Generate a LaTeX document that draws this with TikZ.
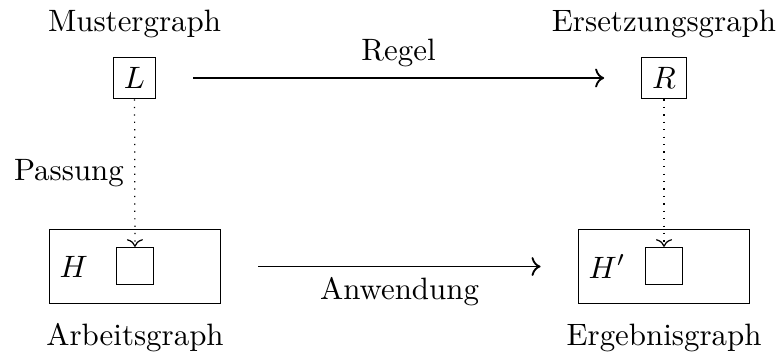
\documentclass[tikz,border=0pt]{standalone}
\usetikzlibrary{arrows.meta}
\begin{document}
\begin{tikzpicture}[x=0.3236pt,y=-0.3236pt,
  graphbox/.style={draw,inner sep=3.33pt},
  hostbox/.style={draw,minimum width=55.5pt,minimum height=24pt},
  slotbox/.style={draw,minimum size=12pt,inner sep=0pt},
  caption/.style={anchor=base},
  mainarrow/.style={->,semithick,shorten <=12pt,shorten >=12pt},
  matcharrow/.style={->,dotted}]
  \useasboundingbox (0,0) rectangle (778,352);

  % top row: rule
  \node[graphbox] (L) at (134.5,78) {$L$};
  \node[graphbox] (R) at (664,78) {$R$};
  \node[caption] (mcap) at (134.5,31) {Mustergraph};
  \node[caption] (ecap) at (664,31) {Ersetzungsgraph};

  % bottom row: host graphs
  \node[hostbox] (H) at (135,266.5) {};
  \node[slotbox] (Hs) at (135,266) {};
  \node[anchor=west] (Hl) at (H.west) {$H$};
  \node[hostbox] (Hp) at (664,266.5) {};
  \node[slotbox] (Hps) at (664,266) {};
  \node[anchor=west] (Hpl) at (Hp.west) {$H'$};
  \node[caption] (acap) at (135,345) {Arbeitsgraph};
  \node[caption] (gcap) at (664,345) {Ergebnisgraph};

  % connectors
  \draw[mainarrow] (L) -- node[above] (regel) {Regel} (R);
  \draw[mainarrow] (H) -- node[below] (anw) {Anwendung} (Hp);
  \draw[matcharrow] (L) -- node[left] (pass) {Passung} (Hs);
  \draw[matcharrow] (R) -- (Hps);
\end{tikzpicture}
\end{document}
